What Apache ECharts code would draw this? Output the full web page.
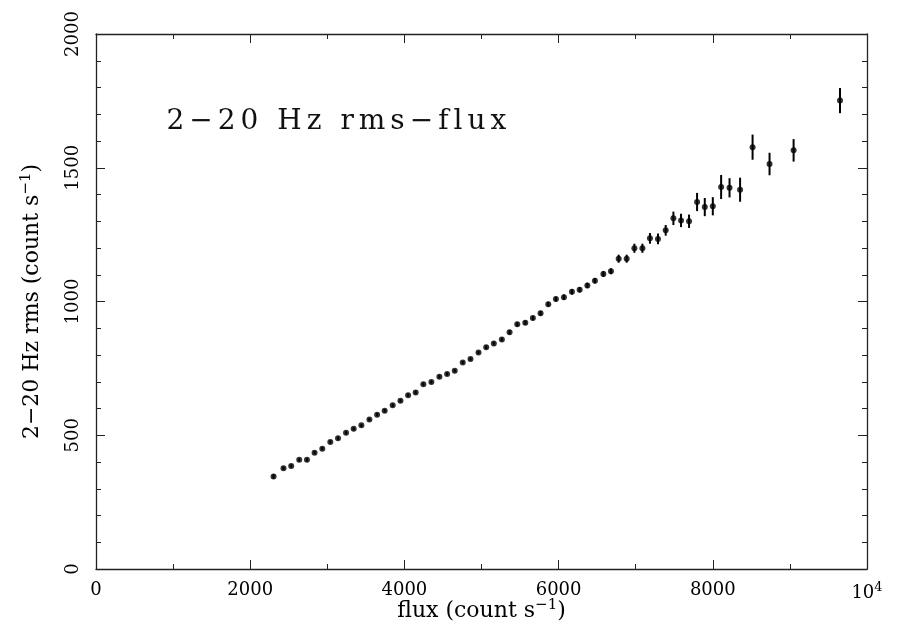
<!DOCTYPE html>
<html><head><meta charset="utf-8">
<script src="https://cdn.jsdelivr.net/npm/echarts@6/dist/echarts.min.js"></script>
<style>html,body{margin:0;padding:0;background:#fff}#c{width:897px;height:628px}</style>
</head><body><div id="c"></div>
<script>
const flux = [2303,2432,2532,2636,2736,2835,2935,3039,3139,3243,3342,3442,3546,3646,3744,3848,3949,4048,4146,4246,4350,
4454,4554,4653,4757,4857,4961,5061,5160,5264,5364,5464,5568,5666,5766,5866,5965,6069,6173,6273,6373,6471,
6581,6679,6779,6883,6983,7087,7185,7289,7389,7489,7588,7692,7796,7896,8000,8108,8217,8354,8516,8736,9048,9650];
const rms = [346,377,385,408,408,435,450,475,489,509,524,537,559,577,592,612,629,650,660,691,699,
719,729,741,772,785,809,829,843,858,885,915,921,938,956,990,1009,1016,1036,1044,1060,1078,
1103,1113,1160,1160,1199,1199,1236,1234,1266,1311,1303,1300,1372,1353,1356,1428,1425,1418,1577,1514,1565,1751];
const err = [8,6,6,6,6,6,6,6,6,6,6,6,6,6,6,6,6,6,6,6,6,
6,6,6,6,6,6,7,7,7,8,8,8,8,9,9,9,10,10,10,10,10,
11,11,15,15,17,17,20,20,20,25,25,25,34,34,34,45,36,45,47,42,42,47];
const xTickLabels = ['0','2000','4000','6000','8000','10^4'];
const yTickLabels = ['0','500','1000','1500','2000'];
const titleText = '2\u221220 Hz rms\u2212flux';

const font = 'DejaVu Serif';
const pts = flux.map((f,i)=>[f,rms[i],err[i]]);
const chart = echarts.init(document.getElementById('c'));
const line = {show:true,onZero:false,lineStyle:{color:'#222',width:1.3}};
function ax(pos,max,interval,minorSplit,extra){
  return Object.assign({type:'value',position:pos,min:0,max:max,interval:interval,
    axisLine:line,splitLine:{show:false},
    axisTick:{show:true,inside:true,length:9,lineStyle:{color:'#222',width:1}},
    minorTick:{show:true,splitNumber:minorSplit,length:5,lineStyle:{color:'#222',width:1}},
    axisLabel:{show:false}},extra||{});
}
const rich = {n:{fontFamily:font,fontSize:18,color:'#000'},s:{fontFamily:font,fontSize:13,color:'#000',verticalAlign:'top',padding:[0,0,12,0]}};
const nameRich = {n:{fontFamily:font,fontSize:22,color:'#000'},s:{fontFamily:font,fontSize:15,color:'#000',verticalAlign:'top',padding:[0,0,12,0]}};
const titleRich = {c:{fontFamily:font,fontSize:28,color:'#111',padding:[0,2.5,0,2.5]}};
chart.setOption({
  animation:false,
  backgroundColor:'#fff',
  grid:{left:96,right:30,top:34,bottom:59,outerBoundsMode:'none'},
  title:{text:Array.from(titleText).map(c=>'{c|'+c+'}').join(''),left:159,top:103,
    textStyle:{rich:titleRich,fontFamily:font,fontSize:28,fontWeight:'normal',color:'#111'}},
  xAxis:[
    ax('bottom',10000,2000,2,{
      name:'{n|flux (count s}{s|\u22121}{n|)}',nameLocation:'middle',nameGap:29,nameMoveOverlap:false,
      nameTextStyle:{rich:nameRich},
      axisLabel:{show:true,margin:12,fontFamily:font,fontSize:18,color:'#000',
        formatter:(v)=>{const t=xTickLabels[Math.round(v/2000)];return t==='10^4'?'{n|10}{s|4}':'{n|'+t+'}';},
        rich:rich}}),
    ax('top',10000,2000,2)
  ],
  yAxis:[
    ax('left',2000,500,5,{
      name:'{n|2\u221220 Hz rms (count s}{s|\u22121}{n|)}',nameLocation:'middle',nameGap:50,nameRotate:90,nameMoveOverlap:false,
      nameTextStyle:{rich:nameRich},
      axisLabel:{show:true,rotate:90,margin:14,fontFamily:font,fontSize:18,color:'#000',
        formatter:(v)=>yTickLabels[Math.round(v/500)]}}),
    ax('right',2000,500,5)
  ],
  series:[
    {type:'custom',xAxisIndex:0,yAxisIndex:0,data:pts,
     renderItem:(params,api)=>{
       const x=api.value(0),y=api.value(1),e=api.value(2);
       const p1=api.coord([x,y-e]),p2=api.coord([x,y+e]);
       return {type:'line',shape:{x1:p1[0],y1:p1[1],x2:p2[0],y2:p2[1]},style:{stroke:'#000',lineWidth:2}};
     }},
    {type:'scatter',xAxisIndex:0,yAxisIndex:0,data:pts.map(p=>[p[0],p[1]]),symbol:'circle',symbolSize:6,itemStyle:{color:'#000'}}
  ]
});
</script></body></html>
